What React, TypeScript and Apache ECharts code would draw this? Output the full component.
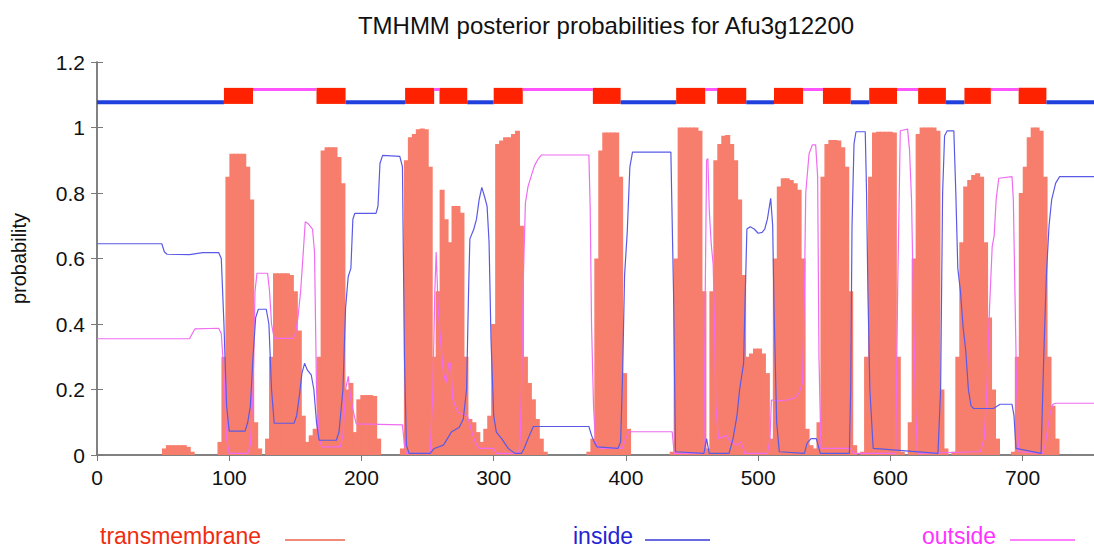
import React, { useEffect, useRef } from 'react';
import * as echarts from 'echarts';

const TITLE = 'TMHMM posterior probabilities for Afu3g12200';
const SEQ_LENGTH = 754;
const X_TICK_STEP = 100;
const Y_MAX = 1.2;
const Y_TICK_STEP = 0.2;
const LEGEND_NAMES = ['transmembrane', 'inside', 'outside'];

// transmembrane posterior probability, one value every TM_STEP residues from TM_START
const TM_START = 48;
const TM_STEP = 3;
const transmembrane = [
  0, 0.02, 0.03, 0.03, 0.03, 0.03, 0.03, 0.025, 0.01, 0, 0, 0, 0, 0, 0,
  0.04, 0.3, 0.85, 0.92, 0.92, 0.92, 0.92, 0.88, 0.78, 0.1, 0.02, 0,
  0.05, 0.3, 0.555, 0.555, 0.555, 0.555, 0.55, 0.5, 0.38, 0.12, 0.04,
  0.06, 0.08, 0.3, 0.93, 0.94, 0.94, 0.94, 0.91, 0.83, 0.2, 0.22, 0.07,
  0.17, 0.183, 0.183, 0.183, 0.18, 0.05, 0, 0, 0, 0, 0,
  0.02, 0.9, 0.97, 0.98, 0.995, 0.997, 0.995, 0.88, 0.3,
  0.5, 0.81, 0.72, 0.65, 0.76, 0.76, 0.74, 0.3, 0.11, 0.1, 0.07, 0.04, 0.08, 0.12,
  0.4, 0.95, 0.96, 0.97, 0.97, 0.98, 0.99, 0.7, 0.3, 0.22, 0.17, 0.11, 0.05, 0.01,
  0, 0, 0, 0, 0, 0, 0, 0, 0, 0,
  0.01, 0.05, 0.6, 0.93, 0.985, 0.985, 0.985, 0.985, 0.85, 0.25, 0.08,
  0, 0, 0, 0, 0, 0, 0, 0, 0, 0,
  0.01, 0.6, 1.0, 1.0, 1.0, 1.0, 1.0, 0.99, 0.5, 0.02,
  0.5, 0.9, 0.95, 0.975, 0.977, 0.95, 0.9, 0.78, 0.55, 0.3,
  0.31, 0.325, 0.325, 0.31, 0.25, 0.05,
  0.6, 0.82, 0.845, 0.845, 0.84, 0.83, 0.81, 0.6, 0.08, 0.03, 0.02,
  0.1, 0.85, 0.95, 0.962, 0.962, 0.96, 0.94, 0.88, 0.5, 0.03, 0,
  0.01, 0.3, 0.85, 0.985, 0.987, 0.987, 0.987, 0.987, 0.985, 0.3, 0.01, 0,
  0.1, 0.6, 0.98, 1.0, 1.0, 1.0, 1.0, 0.99, 0.2, 0.02, 0,
  0.01, 0.3, 0.65, 0.82, 0.84, 0.855, 0.86, 0.85, 0.65, 0.42, 0.2, 0.05, 0, 0, 0,
  0.01, 0.3, 0.8, 0.88, 0.97, 1.0, 1.0, 0.99, 0.85, 0.3, 0.15, 0.05, 0,
];

// [residue, probability]
const inside: [number, number][] = [
  [0, 0.645], [49, 0.645], [51, 0.62], [53, 0.613], [70, 0.612], [80, 0.618], [92, 0.618],
  [94, 0.6], [96, 0.4], [98, 0.15], [100, 0.073], [112, 0.073], [114, 0.1], [116, 0.15],
  [118, 0.3], [120, 0.42], [122, 0.445], [128, 0.445], [130, 0.4], [132, 0.2], [134, 0.097],
  [149, 0.097], [151, 0.12], [153, 0.18], [155, 0.25], [157, 0.28], [159, 0.26], [162, 0.245],
  [164, 0.2], [166, 0.1], [168, 0.045], [181, 0.045], [183, 0.07], [186, 0.2], [188, 0.45],
  [190, 0.545], [192, 0.57], [193.5, 0.72], [195, 0.738], [211, 0.738], [212.5, 0.76],
  [214, 0.89], [216, 0.915], [229, 0.912], [231, 0.88], [232.5, 0.3], [234, 0.03],
  [236, 0.005], [252, 0.005], [255, 0.02], [262, 0.03], [265, 0.05], [268, 0.07],
  [274, 0.085], [277, 0.11], [279.5, 0.2], [281, 0.5], [282, 0.66], [285, 0.69],
  [287, 0.72], [289, 0.78], [291, 0.817], [293, 0.79], [295, 0.76], [296.5, 0.65],
  [298, 0.35], [300, 0.12], [302, 0.07], [306, 0.05], [311, 0.02], [316, 0.005],
  [321, 0.005], [323, 0.02], [326, 0.05], [330, 0.087], [372, 0.087], [374, 0.06],
  [376, 0.04], [378, 0.025], [394, 0.02], [396, 0.04], [397.5, 0.25], [399, 0.55],
  [401, 0.68], [403, 0.88], [405, 0.925], [434, 0.925], [436, 0.5], [437.5, 0.01],
  [459, 0.005], [461, 0.05], [463, 0.005], [478, 0.005], [481, 0.05], [484, 0.12],
  [486, 0.2], [489, 0.28], [490, 0.45], [491.5, 0.69], [494, 0.697], [497, 0.69],
  [500, 0.677], [503, 0.68], [505, 0.69], [507, 0.72], [509.5, 0.784], [511, 0.7],
  [512, 0.45], [514, 0.1], [516, 0.01], [535, 0.005], [537, 0.036], [540, 0.05],
  [544, 0.05], [547, 0.005], [569, 0.005], [570, 0.2], [571, 0.7], [572.5, 0.95],
  [574, 0.987], [581, 0.987], [582, 0.8], [583, 0.5], [584.5, 0.2], [587, 0.02],
  [636, 0.005], [638, 0.2], [639.5, 0.8], [641, 0.975], [643, 0.99], [648, 0.99],
  [649.5, 0.8], [651, 0.57], [653, 0.5], [655, 0.39], [657, 0.32], [659, 0.2],
  [661, 0.15], [663, 0.142], [678, 0.142], [683, 0.155], [692, 0.155], [693.5, 0.12],
  [695, 0.02], [714, 0.005], [716, 0.3], [718, 0.55], [720, 0.7], [722, 0.78],
  [725, 0.83], [728, 0.85], [754, 0.85],
];

const outside: [number, number][] = [
  [0, 0.355], [70, 0.355], [72, 0.37], [74, 0.385], [92, 0.387], [94, 0.37], [96, 0.25],
  [98, 0.05], [100, 0.005], [114, 0.005], [116, 0.03], [118, 0.2], [119.5, 0.5],
  [121, 0.555], [129, 0.555], [130.5, 0.5], [132, 0.4], [134, 0.356], [148, 0.356],
  [150, 0.37], [152, 0.42], [154, 0.5], [156, 0.62], [157.5, 0.712], [160, 0.705],
  [163, 0.69], [164.5, 0.62], [166, 0.2], [168, 0.05], [170, 0.025], [184, 0.025],
  [186, 0.06], [188, 0.2], [190, 0.24], [192, 0.17], [194, 0.13], [196, 0.095],
  [231, 0.092], [232.5, 0.03], [234, 0.005], [252, 0.005], [254, 0.2], [255.5, 0.5],
  [256.5, 0.62], [258, 0.45], [260, 0.34], [262, 0.25], [264, 0.22], [266, 0.28],
  [267.5, 0.28], [269, 0.17], [273, 0.13], [280, 0.12], [281.5, 0.1], [283.5, 0.07],
  [286, 0.04], [289, 0.02], [300, 0.02], [302, 0.005], [319, 0.005], [320, 0.05],
  [321, 0.2], [322.5, 0.55], [324, 0.77], [326, 0.82], [329, 0.86], [331, 0.885],
  [334, 0.906], [336, 0.916], [372, 0.916], [373, 0.75], [374, 0.4], [375.5, 0.15],
  [377, 0.04], [380, 0.02], [397, 0.02], [400, 0.05], [402, 0.071], [435, 0.071],
  [436.5, 0.005], [459, 0.005], [460, 0.5], [461, 0.9], [462, 0.905], [463, 0.75],
  [464.5, 0.646], [466, 0.58], [467, 0.4], [468, 0.15], [470, 0.05], [476, 0.06],
  [479, 0.04], [484, 0.03], [487, 0.04], [490, 0.005], [507, 0.005], [509, 0.05],
  [510, 0.168], [515, 0.165], [522, 0.168], [528, 0.175], [531, 0.19], [533.5, 0.22],
  [535, 0.5], [536, 0.8], [538.5, 0.92], [541, 0.947], [543.5, 0.947], [545, 0.85],
  [546, 0.3], [547.5, 0.02], [570, 0.02], [572, 0.005], [604, 0.005], [605.5, 0.5],
  [607.5, 0.99], [613, 0.995], [614.5, 0.93], [616, 0.78], [617.5, 0.45], [619, 0.15],
  [620.5, 0.005], [668, 0.01], [671, 0.05], [673, 0.2], [675, 0.45], [677, 0.636],
  [678.5, 0.67], [680, 0.78], [682, 0.845], [692, 0.85], [693, 0.78], [694.2, 0.5],
  [695.5, 0.2], [697, 0.01], [715, 0.005], [717, 0.03], [719, 0.08], [721, 0.13],
  [723, 0.155], [725, 0.158], [754, 0.158],
];

// predicted topology: [kind, first residue, last residue]
const topology: [string, number, number][] = [
  ['inside', 1, 96], ['TMhelix', 97, 118], ['outside', 119, 166], ['TMhelix', 167, 188],
  ['inside', 189, 233], ['TMhelix', 234, 255], ['outside', 256, 259], ['TMhelix', 260, 280],
  ['inside', 281, 300], ['TMhelix', 301, 322], ['outside', 323, 375], ['TMhelix', 376, 396],
  ['inside', 397, 438], ['TMhelix', 439, 460], ['outside', 461, 469], ['TMhelix', 470, 491],
  ['inside', 492, 512], ['TMhelix', 513, 534], ['outside', 535, 549], ['TMhelix', 550, 570],
  ['inside', 571, 584], ['TMhelix', 585, 605], ['outside', 606, 621], ['TMhelix', 622, 642],
  ['inside', 643, 656], ['TMhelix', 657, 676], ['outside', 677, 697], ['TMhelix', 698, 718],
  ['inside', 719, 754],
];

const KIND_CODE: Record<string, number> = { inside: 0, TMhelix: 1, outside: 2 };

export default function App() {
  const ref = useRef<HTMLDivElement>(null);

  useEffect(() => {
    if (!ref.current) return;
    const chart = echarts.init(ref.current, undefined, { renderer: 'svg' });
    const font = '"Liberation Sans", Arial, Helvetica, sans-serif';

    const tmData = transmembrane.map((v, i) => [TM_START + i * TM_STEP, v]);
    const topoData = topology.map(([k, a, b]) => [a - 1, b, KIND_CODE[k], 1.1]);

    const option: any = {
      animation: false,
      backgroundColor: '#ffffff',
      textStyle: { fontFamily: font },
      title: {
        text: TITLE,
        left: 601,
        textAlign: 'center',
        top: 8,
        textStyle: { fontSize: 24, fontWeight: 'normal', color: '#111', fontFamily: font },
      },
      grid: { left: 97, right: -4, top: 62, bottom: 93, containLabel: false },
      xAxis: [
        {
          type: 'value', min: 0, max: SEQ_LENGTH, interval: X_TICK_STEP, position: 'bottom',
          axisLine: { show: true, lineStyle: { color: '#7a7a7a', width: 1.5 } },
          axisTick: { show: true, inside: true, length: 6, lineStyle: { color: '#7a7a7a' } },
          axisLabel: {
            show: true, margin: 12, fontSize: 21, color: '#111', fontFamily: font,
            showMaxLabel: false,
            formatter: (v: number) => (v % X_TICK_STEP === 0 ? String(v) : ''),
          },
          splitLine: { show: false },
        },
        {
          type: 'value', min: 0, max: SEQ_LENGTH, interval: X_TICK_STEP, position: 'top',
          axisLine: { show: true, lineStyle: { color: '#7a7a7a', width: 1.5 } },
          axisTick: { show: true, inside: true, length: 6, lineStyle: { color: '#7a7a7a' } },
          axisLabel: { show: false },
          splitLine: { show: false },
        },
      ],
      yAxis: [
        {
          type: 'value', min: 0, max: Y_MAX, interval: Y_TICK_STEP, position: 'left',
          name: 'probability', nameLocation: 'middle', nameGap: 68,
          nameTextStyle: { fontSize: 20, color: '#111', fontFamily: font },
          axisLine: { show: true, lineStyle: { color: '#7a7a7a', width: 1.5 } },
          axisTick: { show: true, inside: true, length: 6, lineStyle: { color: '#7a7a7a' } },
          axisLabel: {
            margin: 12, fontSize: 21, color: '#111', fontFamily: font,
            formatter: (v: number) => String(Math.round(v * 10) / 10),
          },
          splitLine: { show: false },
        },
        {
          type: 'value', min: 0, max: Y_MAX, interval: Y_TICK_STEP, position: 'right',
          axisLine: { show: true, lineStyle: { color: '#7a7a7a', width: 1.5 } },
          axisTick: { show: true, inside: true, length: 6, lineStyle: { color: '#7a7a7a' } },
          axisLabel: { show: false },
          splitLine: { show: false },
        },
      ],
      series: [
        {
          name: LEGEND_NAMES[0], type: 'bar', xAxisIndex: 0, yAxisIndex: 0,
          data: tmData, barWidth: 5, barGap: '-100%',
          itemStyle: { color: '#f77e6c' }, silent: true, z: 2,
        },
        {
          name: LEGEND_NAMES[1], type: 'line', data: inside, showSymbol: false, symbol: 'none',
          lineStyle: { color: '#5a5ae6', width: 1.2 }, silent: true, z: 4,
        },
        {
          name: LEGEND_NAMES[2], type: 'line', data: outside, showSymbol: false, symbol: 'none',
          lineStyle: { color: '#f06cf0', width: 1.2 }, silent: true, z: 3,
        },
        {
          name: 'topology', type: 'custom', data: topoData, encode: { x: [0, 1], y: 3 },
          silent: true, z: 5,
          renderItem: (params: any, api: any) => {
            const x0 = api.coord([api.value(0), 0])[0];
            const x1 = api.coord([api.value(1), 0])[0];
            const kind = api.value(2);
            if (kind === 1) {
              const yTop = api.coord([0, 1.121])[1];
              const yBot = api.coord([0, 1.072])[1];
              return {
                type: 'rect',
                shape: { x: x0, y: yTop, width: x1 - x0, height: yBot - yTop },
                style: { fill: '#ff2200' },
              };
            }
            if (kind === 0) {
              const y = api.coord([0, 1.077])[1];
              return {
                type: 'rect',
                shape: { x: x0, y: y - 2, width: x1 - x0, height: 4 },
                style: { fill: '#2040dd' },
              };
            }
            const y = api.coord([0, 1.116])[1];
            return {
              type: 'rect',
              shape: { x: x0, y: y - 1.5, width: x1 - x0, height: 3 },
              style: { fill: '#ff55ff' },
            };
          },
        },
      ],
      graphic: [
        { type: 'text', x: 100, y: 536, style: { text: LEGEND_NAMES[0], fontSize: 23, fill: '#f02c10', fontFamily: font, verticalAlign: 'middle' } },
        { type: 'line', shape: { x1: 285, y1: 540, x2: 345, y2: 540 }, style: { stroke: '#f28a7a', lineWidth: 2 } },
        { type: 'text', x: 573, y: 536, style: { text: LEGEND_NAMES[1], fontSize: 23, fill: '#2424d4', fontFamily: font, verticalAlign: 'middle' } },
        { type: 'line', shape: { x1: 645, y1: 540, x2: 710, y2: 540 }, style: { stroke: '#6a6ae0', lineWidth: 2 } },
        { type: 'text', x: 922, y: 536, style: { text: LEGEND_NAMES[2], fontSize: 23, fill: '#ff33ff', fontFamily: font, verticalAlign: 'middle' } },
        { type: 'line', shape: { x1: 1010, y1: 540, x2: 1075, y2: 540 }, style: { stroke: '#ff80ff', lineWidth: 2 } },
      ],
    };

    chart.setOption(option);
    return () => chart.dispose();
  }, []);

  return (
    <div
      ref={ref}
      style={{ position: 'fixed', left: 0, top: 0, width: '1094px', height: '548px', background: '#fff' }}
    />
  );
}
